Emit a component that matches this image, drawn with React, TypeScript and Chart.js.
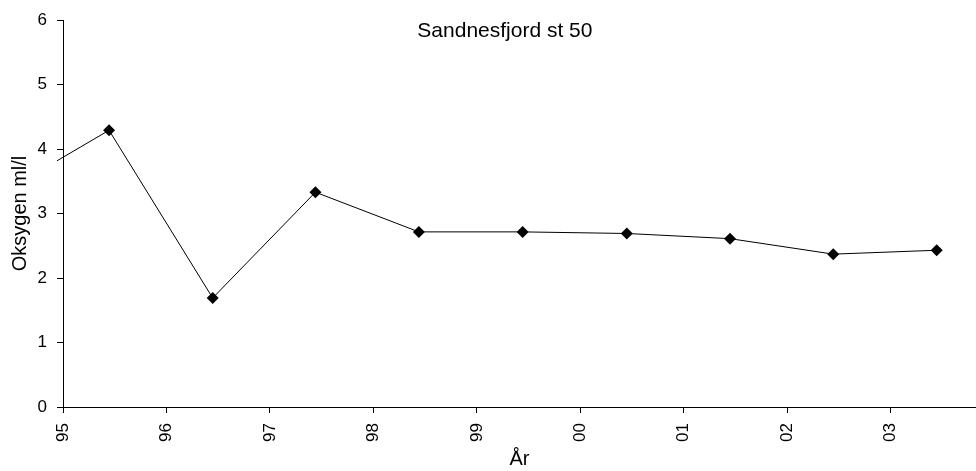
import React, { useEffect, useRef } from 'react';
import { Chart, registerables } from 'chart.js';

Chart.register(...registerables);

const chartTitle = 'Sandnesfjord st 50';
const yAxisTitle = 'Oksygen ml/l';
const xAxisTitle = 'År';

// Sampling dates (decimal year) and oxygen (ml/l)
const sampleYears = [1994.445, 1995.445, 1996.447, 1997.44, 1998.44, 1999.443, 2000.45, 2001.447, 2002.445, 2003.445];
const oxygen = [3.35, 4.29, 1.69, 3.33, 2.715, 2.715, 2.69, 2.61, 2.37, 2.43];

const xMin = 1995;
const xMax = 2003.825;
const yMin = 0;
const yMax = 6;

const FONT = '"Liberation Sans", Arial, Helvetica, sans-serif';

const titlePlugin = {
  id: 'innerTitle',
  afterDraw(chart: any) {
    const { ctx, chartArea } = chart;
    ctx.save();
    ctx.font = `21px ${FONT}`;
    ctx.fillStyle = '#000';
    ctx.textAlign = 'center';
    ctx.textBaseline = 'middle';
    ctx.fillText(chartTitle, chartArea.left + (chartArea.right - chartArea.left) * 0.484, chartArea.top + 11);
    ctx.restore();
  },
};

export default function App() {
  const ref = useRef<HTMLCanvasElement>(null);
  useEffect(() => {
    if (!ref.current) return;
    const chart = new Chart(ref.current, {
      type: 'line',
      data: {
        datasets: [
          {
            data: sampleYears.map((x, i) => ({ x, y: oxygen[i] })),
            borderColor: '#000',
            borderWidth: 1,
            backgroundColor: '#000',
            pointStyle: 'rectRot',
            pointRadius: 6,
            pointBorderWidth: 0,
            pointBackgroundColor: '#000',
            tension: 0,
            clip: { left: 6, top: 0, right: 0, bottom: 0 } as any,
          },
        ],
      },
      options: {
        animation: false,
        responsive: false,
        maintainAspectRatio: false,
        devicePixelRatio: 1,
        layout: { autoPadding: false, padding: { top: 20, left: 0, right: 0, bottom: 0 } },
        plugins: {
          legend: { display: false },
          title: { display: false },
          tooltip: { enabled: false },
        },
        scales: {
          x: {
            type: 'linear',
            min: xMin,
            max: xMax,
            afterFit: (s: any) => { s.height = 64; s.paddingRight = 0; s.paddingLeft = 0; },
            border: { color: '#000', width: 1 },
            grid: { drawOnChartArea: false, drawTicks: true, tickLength: 6, color: '#000' },
            ticks: {
              stepSize: 1,
              includeBounds: false,
              autoSkip: false,
              minRotation: 90,
              maxRotation: 90,
              padding: 10,
              color: '#000',
              font: { family: FONT, size: 17 },
              callback: (v: any) => String(Math.round(Number(v)) % 100).padStart(2, '0'),
            },
            title: {
              display: true,
              text: xAxisTitle,
              color: '#000',
              font: { family: FONT, size: 20 },
              padding: { top: 0, bottom: 0 },
            },
          },
          y: {
            min: yMin,
            max: yMax,
            afterFit: (s: any) => { s.width = 63; s.paddingTop = 0; s.paddingBottom = 0; },
            border: { color: '#000', width: 1 },
            grid: { drawOnChartArea: false, drawTicks: true, tickLength: 6, color: '#000' },
            ticks: {
              stepSize: 1,
              padding: 10,
              color: '#000',
              font: { family: FONT, size: 17 },
            },
            title: {
              display: true,
              text: yAxisTitle,
              color: '#000',
              font: { family: FONT, size: 20 },
              padding: { top: 8, bottom: 0 },
            },
          },
        },
      },
      plugins: [titlePlugin],
    });
    return () => chart.destroy();
  }, []);
  return (
    <div style={{ position: 'absolute', left: 0, top: 0, width: 976, height: 471 }}>
      <canvas ref={ref} width={976} height={471} style={{ display: 'block' }} />
    </div>
  );
}
